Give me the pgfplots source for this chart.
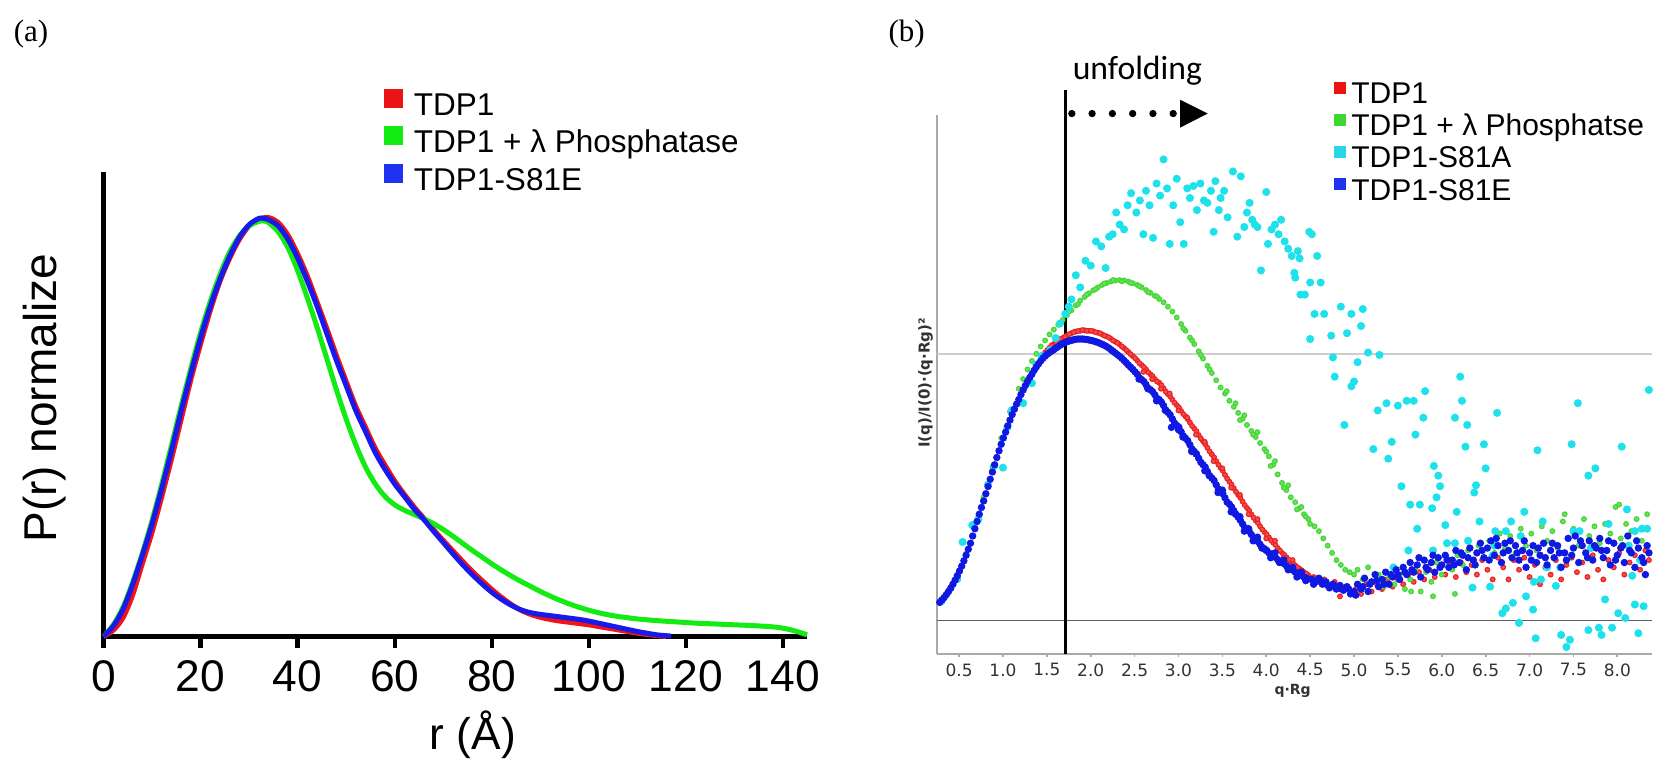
\documentclass[border=0pt]{standalone}
\usepackage{pgfplots}
\pgfplotsset{compat=1.18}
\usepackage{fontspec}
\setmainfont{Liberation Sans}
\newfontfamily\tnr{Liberation Serif}
\newfontfamily\dvs{DejaVu Sans}
\newfontfamily\carl{Carlito}
\definecolor{ra}{RGB}{240,20,20}
\definecolor{ga}{RGB}{20,235,20}
\definecolor{ba}{RGB}{25,25,235}
\definecolor{rb}{RGB}{235,35,35}
\definecolor{gb}{RGB}{70,215,55}
\definecolor{cb}{RGB}{30,225,235}
\definecolor{bb}{RGB}{15,25,225}
\definecolor{lr}{RGB}{235,20,20}
\definecolor{lg}{RGB}{60,215,50}
\definecolor{lc}{RGB}{40,215,230}
\definecolor{lb}{RGB}{30,50,240}
\definecolor{axgray}{RGB}{170,170,170}
\definecolor{zgray}{RGB}{95,95,95}
\definecolor{lgray}{RGB}{205,205,205}
\definecolor{ticktext}{RGB}{50,50,50}
\begin{document}
\begin{tikzpicture}
\useasboundingbox (0,0) rectangle (499.5pt,228pt);
\node[font=\tnr\fontsize{9.3}{10}\selectfont, inner sep=0pt] at (9.3pt,217.8pt) {(a)};
\node[font=\tnr\fontsize{9.3}{10}\selectfont, inner sep=0pt] at (272pt,217.8pt) {(b)};
% ---------------- panel (a)
\begin{axis}[
 at={(31.08pt,37.05pt)}, anchor=south west,
 scale only axis, width=211.02pt, height=139.35pt,
 xmin=0, xmax=145, ymin=0, ymax=1.111,
 axis x line=bottom, axis y line=left,
 axis line style={line width=1.35pt, black, -},
 xtick={0,20,40,60,80,100,120,140}, ytick=\empty,
 tick align=outside, major tick length=3.5pt,
 every tick/.style={black, line width=1.3pt},
 /pgf/number format/assume math mode=true,
 xticklabel style={font=\fontsize{13.3}{14}\selectfont, inner sep=0pt, yshift=-3.55pt},
 xlabel={r (Å)},
 xlabel style={at={(axis description cs:0.525,-0.2121)}, anchor=center, font=\fontsize{13.3}{14}\selectfont, inner sep=0pt},
 ylabel={P(r) normalize},
 ylabel style={at={(axis description cs:-0.0839,0.513)}, anchor=center, font=\fontsize{13.8}{14}\selectfont, inner sep=0pt},
 clip=false,
 legend cell align=left,
 legend style={at={(rel axis cs:0.3986,1.178)}, anchor=north west, draw=none, fill=none,
   inner sep=0pt, outer sep=0pt, font=\fontsize{9.45}{11}\selectfont, row sep=1.2pt,
   nodes={inner sep=0pt, text height=7.2pt, text depth=2pt},
   /tikz/every odd column/.style={column sep=3.3pt}},
]
\addplot[ra, line width=1.5pt, smooth, legend image code/.code={\fill[lr] (0pt,0.4pt) rectangle (4.2pt,4.6pt);}] coordinates {
(0,0) (2,0.015) (4,0.045) (6,0.10) (8,0.175) (10,0.25) (12,0.335) (14,0.425) (16,0.52) (18,0.615) (20,0.70) (22,0.78) (24,0.85) (26,0.905) (28,0.95) (30,0.982) (32,0.998) (34,1.002) (36,0.99) (38,0.96) (40,0.915) (42,0.862) (44,0.80) (46,0.737) (48,0.672) (50,0.61) (52,0.55) (54,0.50) (56,0.45) (58,0.41) (60,0.372) (62,0.34) (64,0.31) (66,0.283) (68,0.256) (70,0.23) (72,0.205) (74,0.18) (76,0.156) (78,0.134) (80,0.113) (82,0.094) (84,0.077) (86,0.063) (88,0.053) (90,0.046) (92,0.041) (94,0.037) (96,0.034) (98,0.031) (100,0.028) (102,0.024) (104,0.020) (106,0.016) (108,0.012) (110,0.008) (112,0.005) (114,0.002) (116,0)};
\addlegendentry{TDP1}
\addplot[ga, line width=1.5pt, smooth, legend image code/.code={\fill[ga] (0pt,0.4pt) rectangle (4.2pt,4.6pt);}] coordinates {
(0,0) (2,0.028) (4,0.07) (6,0.13) (8,0.20) (10,0.278) (12,0.365) (14,0.458) (16,0.552) (18,0.642) (20,0.727) (22,0.802) (24,0.866) (26,0.92) (28,0.958) (30,0.982) (32,0.993) (33,0.994) (34,0.99) (36,0.968) (38,0.93) (40,0.875) (42,0.81) (44,0.74) (46,0.665) (48,0.59) (50,0.52) (52,0.458) (54,0.405) (56,0.365) (58,0.335) (60,0.315) (62,0.302) (64,0.292) (66,0.282) (68,0.27) (70,0.256) (72,0.24) (74,0.223) (76,0.206) (78,0.19) (80,0.174) (82,0.159) (84,0.145) (86,0.132) (88,0.12) (90,0.108) (92,0.097) (94,0.087) (96,0.078) (98,0.07) (100,0.063) (102,0.057) (104,0.052) (106,0.048) (108,0.045) (110,0.042) (114,0.038) (118,0.035) (122,0.032) (126,0.030) (130,0.028) (134,0.026) (138,0.023) (140,0.020) (142,0.015) (144,0.008) (145,0.004)};
\addlegendentry{TDP1 + λ Phosphatase}
\addplot[ba, line width=1.5pt, smooth, legend image code/.code={\fill[lb] (0pt,0.4pt) rectangle (4.2pt,4.6pt);}] coordinates {
(0,0) (2,0.025) (4,0.065) (6,0.125) (8,0.195) (10,0.27) (12,0.355) (14,0.445) (16,0.54) (18,0.63) (20,0.715) (22,0.79) (24,0.855) (26,0.91) (28,0.955) (30,0.985) (32,1.0) (33,1.0) (34,0.997) (36,0.982) (38,0.95) (40,0.905) (42,0.85) (44,0.79) (46,0.725) (48,0.66) (50,0.60) (52,0.54) (54,0.49) (56,0.44) (58,0.40) (60,0.365) (62,0.335) (64,0.305) (66,0.28) (68,0.252) (70,0.225) (72,0.198) (74,0.172) (76,0.148) (78,0.126) (80,0.106) (82,0.089) (84,0.075) (86,0.064) (88,0.057) (90,0.053) (92,0.05) (94,0.047) (96,0.044) (98,0.041) (100,0.037) (102,0.032) (104,0.027) (106,0.022) (108,0.017) (110,0.012) (112,0.008) (114,0.004) (117,0.001)};
\addlegendentry{TDP1-S81E}
\end{axis}
% ---------------- panel (b)
\begin{axis}[
 at={(280.95pt,31.8pt)}, anchor=south west,
 scale only axis, width=214.5pt, height=161.7pt,
 xmin=0.243, xmax=8.39, ymin=-0.139, ymax=2.094,
 axis x line=bottom, axis y line=left,
 axis line style={draw=axgray, line width=0.6pt, -},
 xtick={0.5,1.0,1.5,2.0,2.5,3.0,3.5,4.0,4.5,5.0,5.5,6.0,6.5,7.0,7.5,8.0},
 xticklabels={0.5,1.0,1.5,2.0,2.5,3.0,3.5,4.0,4.5,5.0,5.5,6.0,6.5,7.0,7.5,8.0},
 ytick=\empty,
 tick align=outside, major tick length=0.75pt,
 every tick/.style={axgray, line width=0.5pt},
 xticklabel style={font=\dvs\fontsize{5.1}{6}\selectfont, text=ticktext, inner sep=0pt, yshift=-1.9pt},
 xlabel={q·Rg},
 xlabel style={at={(axis description cs:0.498,-0.068)}, anchor=center, font=\dvs\bfseries\fontsize{4.2}{5}\selectfont, text=ticktext, inner sep=0pt},
 ylabel={I(q)/I(0)·(q·Rg)²},
 ylabel style={at={(axis description cs:-0.0154,0.503)}, anchor=center, font=\dvs\bfseries\fontsize{4.5}{5}\selectfont, text=ticktext, inner sep=0pt},
 clip=false,
 legend cell align=left,
 legend style={at={(rel axis cs:0.556,1.064)}, anchor=north west, draw=none, fill=none,
   inner sep=0pt, outer sep=0pt, font=\fontsize{9}{10}\selectfont, row sep=0.86pt,
   nodes={inner sep=0pt, text height=6.9pt, text depth=1.9pt},
   /tikz/every odd column/.style={column sep=1.5pt}},
]
\draw[zgray, line width=0.45pt] (axis cs:0.243,0) -- (axis cs:8.39,0);
\draw[lgray, line width=0.4pt] (axis cs:0.243,1.104) -- (axis cs:8.39,1.104);
% TDP1 red
\addplot[only marks, mark=*, mark size=0.7pt, rb, mark options={draw=rb, fill=rb!80!white, line width=0.35pt}, legend image code/.code={\fill[lr] (0pt,0.6pt) rectangle (3.3pt,3.9pt);}] coordinates {
(0.28,0.076) (0.38,0.12) (0.48,0.186) (0.58,0.27) (0.68,0.38) (0.78,0.497) (0.88,0.617) (0.98,0.732) (1.08,0.832) (1.18,0.918) (1.28,0.995) (1.38,1.058) (1.48,1.11) (1.53,1.13) (1.58,1.145) (1.63,1.16) (1.68,1.17) (1.73,1.18) (1.78,1.19) (1.83,1.197) (1.88,1.2) (1.93,1.202) (1.98,1.2) (2.03,1.198) (2.08,1.192) (2.13,1.185) (2.18,1.177) (2.23,1.167) (2.28,1.155) (2.33,1.143) (2.38,1.128) (2.43,1.112) (2.48,1.095) (2.53,1.077) (2.58,1.058) (2.63,1.04) (2.68,1.02) (2.73,1.0) (2.78,0.985) (2.83,0.962) (2.88,0.938) (2.93,0.915) (2.98,0.892) (3.03,0.868) (3.08,0.845) (3.13,0.82) (3.18,0.795) (3.23,0.768) (3.28,0.742) (3.33,0.715) (3.38,0.688) (3.43,0.66) (3.48,0.632) (3.53,0.603) (3.58,0.575) (3.63,0.548) (3.68,0.52) (3.73,0.493) (3.78,0.466) (3.83,0.44) (3.88,0.414) (3.93,0.39) (3.98,0.366) (4.03,0.344) (4.08,0.322) (4.13,0.30) (4.18,0.28) (4.23,0.262) (4.28,0.244) (4.33,0.228) (4.38,0.214) (4.43,0.20) (4.48,0.188)
(1.505,1.12) (1.555,1.14) (1.605,1.152) (1.655,1.166) (1.705,1.175) (1.755,1.186) (1.805,1.194) (1.855,1.199) (1.905,1.203) (1.955,1.2) (2.005,1.2) (2.055,1.194) (2.105,1.19) (2.155,1.18) (2.205,1.173) (2.255,1.16) (2.305,1.15) (2.355,1.135) (2.405,1.12) (2.455,1.103) (2.505,1.087) (2.555,1.066) (2.605,1.05) (2.655,1.028) (2.705,1.012) (2.755,0.99) (2.805,0.975) (2.855,0.948) (2.905,0.928) (2.955,0.902) (3.005,0.882) (3.055,0.855) (3.105,0.834) (3.155,0.806) (3.205,0.784) (3.255,0.754) (3.305,0.73) (3.355,0.70) (3.405,0.676) (3.455,0.645) (3.505,0.62) (3.555,0.588) (3.605,0.563) (3.655,0.533) (3.705,0.508) (3.755,0.478) (3.805,0.455) (3.855,0.426) (3.905,0.404) (3.955,0.377) (4.005,0.357) (4.055,0.332) (4.105,0.313) (4.155,0.29) (4.205,0.272) (4.255,0.252) (4.305,0.237) (4.355,0.22) (4.405,0.208) (4.455,0.194)
(2.6,1.03) (2.7,1.0) (2.8,0.96) (2.9,0.94) (3.0,0.87) (3.1,0.84) (3.2,0.77) (3.3,0.74) (3.4,0.66) (3.5,0.63) (3.6,0.55) (3.7,0.52) (3.8,0.44) (3.9,0.42) (4.0,0.34) (4.1,0.33) (4.2,0.26) (4.3,0.25) (4.4,0.20) (4.5,0.17)
(4.54,0.18) (4.60,0.16) (4.66,0.17) (4.72,0.14) (4.78,0.16) (4.84,0.10) (4.90,0.14) (4.96,0.12) (5.02,0.13) (5.08,0.11) (5.14,0.15) (5.20,0.12) (5.26,0.15) (5.32,0.13) (5.38,0.17) (5.44,0.14) (5.50,0.17) (5.56,0.15) (5.62,0.19) (5.68,0.16) (5.74,0.20) (5.80,0.17) (5.86,0.21) (5.92,0.18) (5.98,0.22) (6.04,0.19) (6.10,0.23) (6.16,0.18) (6.22,0.24) (6.28,0.20) (6.34,0.23) (6.40,0.19) (6.46,0.25) (6.52,0.21) (6.58,0.17) (6.64,0.26) (6.70,0.22) (6.76,0.17) (6.82,0.25) (6.88,0.21) (6.94,0.26) (7.00,0.18) (7.06,0.23) (7.12,0.15) (7.18,0.22) (7.24,0.19) (7.30,0.25) (7.36,0.17) (7.42,0.23) (7.48,0.26) (7.54,0.20) (7.60,0.24) (7.66,0.18) (7.72,0.27) (7.78,0.21) (7.84,0.17) (7.90,0.25) (7.96,0.22) (8.02,0.28) (8.08,0.19) (8.14,0.24) (8.20,0.27) (8.26,0.21) (8.32,0.29) (8.36,0.25)};
\addlegendentry{TDP1}
% phosphatase green
\addplot[only marks, mark=*, mark size=0.7pt, gb, mark options={draw=gb, fill=gb!80!white, line width=0.35pt}, legend image code/.code={\fill[lg] (0pt,0.6pt) rectangle (3.3pt,3.9pt);}] coordinates {
(0.28,0.078) (0.38,0.123) (0.48,0.19) (0.58,0.277) (0.68,0.39) (0.78,0.51) (0.88,0.635) (0.98,0.755) (1.08,0.865) (1.18,0.96) (1.23,1.0) (1.28,1.04) (1.33,1.075) (1.38,1.105) (1.43,1.135) (1.48,1.16) (1.53,1.185) (1.58,1.205) (1.63,1.225) (1.68,1.245) (1.73,1.265) (1.78,1.285) (1.83,1.305) (1.88,1.325) (1.93,1.34) (1.98,1.355) (2.03,1.368) (2.08,1.38) (2.13,1.39) (2.18,1.398) (2.23,1.404) (2.28,1.408) (2.33,1.41) (2.38,1.409) (2.43,1.404) (2.48,1.397) (2.53,1.39) (2.58,1.38) (2.63,1.369) (2.68,1.357) (2.73,1.345) (2.78,1.332) (2.83,1.318) (2.88,1.30) (2.93,1.28) (2.98,1.255) (3.03,1.228) (3.08,1.20) (3.13,1.172) (3.18,1.145) (3.23,1.115) (3.28,1.085) (3.33,1.055) (3.38,1.025) (3.43,0.995) (3.48,0.965) (3.53,0.94) (3.58,0.91) (3.63,0.885) (3.68,0.86) (3.73,0.835) (3.78,0.81) (3.83,0.785) (3.88,0.76) (3.93,0.735) (3.98,0.71) (4.03,0.68) (4.08,0.645) (4.13,0.605) (4.18,0.57) (4.23,0.54) (4.28,0.51) (4.33,0.49) (4.38,0.465) (4.43,0.44) (4.48,0.42)
(1.755,1.28) (1.855,1.31) (1.955,1.35) (2.055,1.372) (2.155,1.396) (2.255,1.41) (2.355,1.405) (2.455,1.398) (2.555,1.385) (2.655,1.36) (2.755,1.342) (3.055,1.21) (3.155,1.16) (3.255,1.10) (3.355,1.04)
(3.55,0.95) (3.65,0.90) (3.70,0.83) (3.75,0.85) (3.85,0.77) (3.90,0.78) (4.0,0.70) (4.05,0.64) (4.1,0.66) (4.2,0.55) (4.25,0.56) (4.35,0.46) (4.4,0.47) (4.45,0.43)
(4.5,0.40) (4.55,0.39) (4.6,0.37) (4.65,0.34) (4.7,0.31) (4.75,0.28) (4.8,0.25) (4.85,0.23) (4.9,0.21) (4.95,0.20) (5.0,0.19)
(5.04,0.21) (5.10,0.17) (5.16,0.22) (5.22,0.16) (5.28,0.19) (5.34,0.14) (5.40,0.18) (5.46,0.15) (5.52,0.19) (5.58,0.13) (5.64,0.17) (5.70,0.21) (5.76,0.12) (5.82,0.20) (5.88,0.16) (5.94,0.24) (6.00,0.19) (6.06,0.26) (6.12,0.21) (6.18,0.27) (6.24,0.23) (6.30,0.29) (6.36,0.24) (6.42,0.31) (6.48,0.26) (6.54,0.33) (6.60,0.28) (6.66,0.36) (6.72,0.30) (6.78,0.35) (6.84,0.28) (6.90,0.38) (6.96,0.31) (7.02,0.36) (7.08,0.29) (7.14,0.39) (7.20,0.33) (7.26,0.37) (7.32,0.30) (7.38,0.41) (7.44,0.34) (7.50,0.38) (7.56,0.31) (7.62,0.42) (7.68,0.35) (7.74,0.39) (7.80,0.32) (7.86,0.40) (7.92,0.36) (7.98,0.47) (8.04,0.34) (8.10,0.40) (8.16,0.37) (8.22,0.42) (8.28,0.33) (8.34,0.44)
(5.65,0.12) (5.9,0.10) (6.15,0.11) (8.02,0.48) (7.4,0.44)};
\addlegendentry{TDP1 + λ Phosphatse}
% S81A cyan
\addplot[only marks, mark=*, mark size=1pt, cb, legend image code/.code={\fill[lc] (0pt,0.6pt) rectangle (3.3pt,3.9pt);}] coordinates {
(0.30,0.08) (0.48,0.171) (0.54,0.325) (0.65,0.395) (0.72,0.42) (0.83,0.563) (0.90,0.64) (1.0,0.633) (1.05,0.80) (1.10,0.871) (1.23,0.90) (1.33,0.983) (1.38,1.06) (1.44,1.096) (1.54,1.12) (1.60,1.17) (1.65,1.23) (1.71,1.27) (1.75,1.30)
(1.78,1.33) (1.83,1.43) (1.88,1.38) (1.94,1.49) (2.0,1.47) (2.06,1.57) (2.12,1.55) (2.17,1.46) (2.21,1.59) (2.25,1.60) (2.29,1.69) (2.33,1.64) (2.38,1.62) (2.42,1.72) (2.46,1.77) (2.52,1.69) (2.56,1.74) (2.60,1.60) (2.63,1.78) (2.67,1.72) (2.71,1.585) (2.75,1.81) (2.79,1.76) (2.83,1.91) (2.87,1.79) (2.90,1.56) (2.94,1.72) (2.98,1.83) (3.02,1.65) (3.06,1.56) (3.10,1.79) (3.13,1.75) (3.17,1.80) (3.21,1.70) (3.25,1.81) (3.29,1.74) (3.33,1.73) (3.37,1.78) (3.40,1.61) (3.42,1.82) (3.46,1.70) (3.48,1.75) (3.52,1.78) (3.56,1.67) (3.62,1.86) (3.67,1.59) (3.71,1.84) (3.75,1.63) (3.78,1.69) (3.81,1.73) (3.84,1.66) (3.87,1.64) (3.90,1.63) (3.94,1.45) (4.0,1.775) (4.02,1.56) (4.06,1.62) (4.10,1.64) (4.14,1.60) (4.17,1.66) (4.21,1.57) (4.25,1.54) (4.29,1.51) (4.33,1.42) (4.36,1.53) (4.38,1.50) (4.44,1.35) (4.49,1.61) (4.50,1.166) (4.52,1.60) (4.32,1.44) (4.39,1.35) (4.50,1.40) (4.58,1.51) (4.62,1.40)
(4.55,1.27) (4.66,1.27) (4.74,1.18) (4.76,1.09) (4.78,1.01) (4.85,1.30) (4.89,0.81) (4.92,1.19) (4.97,1.27) (4.97,0.97) (5.00,0.99) (5.04,1.07) (5.08,1.22) (5.10,1.29) (5.16,1.11) (5.22,0.71) (5.27,0.87) (5.29,1.10) (5.37,0.90) (5.39,0.67) (5.43,0.74) (5.50,0.89) (5.54,0.556) (5.60,0.91) (5.62,0.29) (5.64,0.48) (5.68,0.91) (5.70,0.77) (5.72,0.38) (5.75,0.48) (5.79,0.84) (5.81,0.95) (5.89,0.465) (5.91,0.64) (5.94,0.51) (5.96,0.60) (5.98,0.556) (6.04,0.395) (6.06,0.32) (6.15,0.32) (6.15,0.84) (6.17,0.45) (6.21,1.01) (6.23,0.91) (6.27,0.72) (6.29,0.81) (6.35,0.136) (6.37,0.53) (6.39,0.56) (6.43,0.41) (6.48,0.73) (6.50,0.63) (6.58,0.27) (6.61,0.37) (6.63,0.86) (6.69,0.03) (6.73,0.05) (6.73,0.37) (6.79,0.41) (6.81,0.073) (6.88,-0.01) (6.94,0.45) (6.96,0.10) (7.04,0.045) (7.07,-0.074) (7.09,0.705) (7.13,0.17) (7.15,0.41) (7.30,0.143) (7.36,-0.06) (7.42,-0.11) (7.46,-0.08) (7.48,0.73) (7.55,0.90) (7.57,0.37) (7.67,0.60) (7.67,-0.04) (7.75,0.63) (7.79,-0.03) (7.82,-0.06) (7.86,0.087) (7.94,-0.03) (8.01,0.03) (8.05,0.72) (8.09,0.01) (8.11,0.46) (8.13,0.31) (8.17,0.185) (8.20,0.066) (8.24,-0.053) (8.26,0.25) (8.28,0.38) (8.30,0.059) (8.34,0.38) (8.36,0.955)
(5.45,0.22) (5.9,0.29) (6.3,0.33) (6.6,0.31) (6.9,0.35) (7.2,0.22) (7.5,0.37) (7.9,0.40) (8.2,0.37) (6.55,0.14) (7.05,0.16) (7.35,0.22) (7.7,0.30)};
\addlegendentry{TDP1-S81A}
% S81E blue
\addplot[only marks, mark=*, mark size=0.9pt, bb, legend image code/.code={\fill[lb] (0pt,0.6pt) rectangle (3.3pt,3.9pt);}] coordinates {
(0.28,0.075) (0.33,0.095) (0.38,0.12) (0.43,0.15) (0.48,0.185) (0.53,0.225) (0.58,0.27) (0.63,0.32) (0.68,0.38) (0.73,0.44) (0.78,0.495) (0.83,0.555) (0.88,0.615) (0.93,0.675) (0.98,0.73) (1.03,0.78) (1.08,0.83) (1.13,0.875) (1.18,0.915) (1.23,0.955) (1.28,0.99) (1.33,1.02) (1.38,1.05) (1.43,1.075) (1.48,1.095) (1.53,1.11) (1.58,1.122) (1.63,1.135) (1.68,1.147) (1.73,1.155) (1.78,1.16) (1.83,1.165) (1.88,1.166) (1.93,1.165) (1.98,1.162) (2.03,1.158) (2.08,1.152) (2.13,1.144) (2.18,1.135) (2.23,1.122) (2.28,1.108) (2.33,1.094) (2.38,1.077) (2.43,1.058) (2.48,1.04) (2.53,1.02) (2.58,0.998) (2.63,0.977) (2.68,0.956) (2.73,0.935) (2.78,0.915) (2.83,0.89) (2.88,0.862) (2.93,0.835) (2.98,0.808) (3.03,0.782) (3.08,0.755) (3.13,0.728) (3.18,0.70) (3.23,0.672) (3.28,0.645) (3.33,0.617) (3.38,0.59) (3.43,0.562) (3.48,0.535) (3.53,0.508) (3.58,0.482) (3.63,0.455) (3.68,0.428) (3.73,0.40) (3.78,0.378) (3.83,0.356) (3.88,0.335) (3.93,0.315) (3.98,0.297) (4.03,0.28) (4.08,0.266) (4.13,0.252) (4.18,0.24) (4.23,0.226) (4.28,0.212) (4.33,0.20) (4.38,0.19) (4.43,0.18) (4.48,0.172)
(0.305,0.085) (0.355,0.107) (0.405,0.134) (0.455,0.167) (0.505,0.205) (0.555,0.247) (0.605,0.295) (0.655,0.35) (0.705,0.41) (0.755,0.468) (0.805,0.525) (0.855,0.585) (0.905,0.645) (0.955,0.703) (1.005,0.756) (1.055,0.806) (1.105,0.853) (1.155,0.896) (1.205,0.936) (1.255,0.973) (1.305,1.006) (1.355,1.036) (1.405,1.063) (1.455,1.086) (1.505,1.103) (1.555,1.116) (1.605,1.129) (1.655,1.141) (1.705,1.151) (1.755,1.158) (1.805,1.163) (1.855,1.166) (1.905,1.166) (1.955,1.164) (2.005,1.16) (2.055,1.155) (2.105,1.148) (2.155,1.14) (2.205,1.129) (2.255,1.115) (2.305,1.101) (2.355,1.086) (2.405,1.068) (2.455,1.049)
(2.505,1.03) (2.555,1.005) (2.605,0.99) (2.655,0.962) (2.705,0.948) (2.755,0.92) (2.805,0.905) (2.855,0.872) (2.905,0.852) (2.955,0.818) (3.005,0.80) (3.055,0.765) (3.105,0.745) (3.155,0.71) (3.205,0.69) (3.255,0.655) (3.305,0.635) (3.355,0.60) (3.405,0.58) (3.455,0.545) (3.505,0.525) (3.555,0.49) (3.605,0.47) (3.655,0.44) (3.705,0.415) (3.755,0.385) (3.805,0.37) (3.855,0.343) (3.905,0.327) (3.955,0.303) (4.005,0.29) (4.055,0.27) (4.105,0.262) (4.155,0.244) (4.205,0.235) (4.255,0.217) (4.305,0.208) (4.355,0.193) (4.405,0.186) (4.455,0.174)
(2.55,1.0) (2.65,0.96) (2.75,0.91) (2.85,0.87) (2.92,0.80) (3.0,0.79) (3.05,0.76) (3.15,0.70) (3.2,0.69) (3.3,0.62) (3.35,0.60) (3.45,0.53) (3.5,0.54) (3.6,0.45) (3.65,0.44) (3.7,0.43) (3.75,0.37) (3.8,0.38) (3.85,0.33) (3.9,0.345) (3.95,0.30) (4.0,0.29) (4.05,0.26) (4.1,0.28) (4.15,0.24) (4.2,0.25) (4.25,0.21) (4.3,0.22) (4.35,0.18) (4.4,0.2) (4.45,0.165)
(4.52,0.17) (4.56,0.16) (4.60,0.175) (4.64,0.15) (4.68,0.16) (4.72,0.135) (4.76,0.15) (4.80,0.13) (4.84,0.145) (4.88,0.125) (4.92,0.14) (4.96,0.11) (5.00,0.12) (5.04,0.15) (5.08,0.13) (5.12,0.175) (5.16,0.12) (5.20,0.16) (5.24,0.19) (5.28,0.14) (5.32,0.17) (5.36,0.20) (5.40,0.15) (5.44,0.18) (5.48,0.21) (5.52,0.17) (5.56,0.22) (5.60,0.19) (5.64,0.24) (5.68,0.20) (5.72,0.23) (5.76,0.18) (5.80,0.25) (5.84,0.21) (5.88,0.24) (5.92,0.20) (5.96,0.26) (6.00,0.23) (6.04,0.27) (6.08,0.22) (6.12,0.25) (6.16,0.29) (6.20,0.24) (6.24,0.27) (6.28,0.21) (6.32,0.30) (6.36,0.25) (6.40,0.28) (6.44,0.32) (6.48,0.26) (6.52,0.30) (6.56,0.33) (6.60,0.27) (6.64,0.31) (6.68,0.24) (6.72,0.32) (6.76,0.29) (6.80,0.26) (6.84,0.31) (6.88,0.25) (6.92,0.29) (6.96,0.22) (7.00,0.28) (7.04,0.31) (7.08,0.24) (7.12,0.27) (7.16,0.32) (7.20,0.23) (7.24,0.29) (7.28,0.26) (7.32,0.31) (7.36,0.22) (7.40,0.28) (7.44,0.34) (7.48,0.27) (7.52,0.35) (7.56,0.24) (7.60,0.31) (7.64,0.28) (7.68,0.33) (7.72,0.25) (7.76,0.30) (7.80,0.34) (7.84,0.26) (7.88,0.29) (7.92,0.23) (7.96,0.32) (8.00,0.27) (8.04,0.30) (8.08,0.24) (8.12,0.35) (8.16,0.28) (8.20,0.22) (8.24,0.30) (8.28,0.26) (8.32,0.19) (8.36,0.28)
(4.54,0.15) (4.62,0.165) (4.70,0.145) (4.78,0.14) (4.86,0.13) (4.94,0.13) (5.02,0.105) (5.10,0.14) (5.18,0.15) (5.26,0.165) (5.34,0.15) (5.42,0.19) (5.50,0.19) (5.58,0.20) (5.66,0.21) (5.74,0.26) (5.82,0.22) (5.90,0.27) (5.98,0.22) (6.06,0.25) (6.14,0.23) (6.22,0.28) (6.30,0.26) (6.38,0.23) (6.46,0.29) (6.54,0.25) (6.62,0.34) (6.70,0.28) (6.78,0.33) (6.86,0.28) (6.94,0.33) (7.02,0.25) (7.10,0.30) (7.18,0.26) (7.26,0.32) (7.34,0.28) (7.42,0.25) (7.50,0.30) (7.58,0.33) (7.66,0.26) (7.74,0.31) (7.82,0.29) (7.90,0.33) (7.98,0.25) (8.06,0.31) (8.14,0.29) (8.22,0.33) (8.30,0.24) (8.34,0.31)};
\addlegendentry{TDP1-S81E}
\draw[black, line width=0.9pt] (axis cs:1.715,-0.139) -- (axis cs:1.715,2.196);
\draw[black, line width=2.2pt, line cap=round, dash pattern=on 0pt off 6.08pt] (axis cs:1.785,2.100) -- (axis cs:2.940,2.100);
\fill[black] (axis cs:3.02,2.157) -- (axis cs:3.333,2.100) -- (axis cs:3.02,2.042) -- cycle;
\node[anchor=base west, inner sep=0pt, font=\carl\fontsize{10.1}{11}\selectfont] at (axis cs:1.788,2.243) {unfolding};
\end{axis}
\end{tikzpicture}
\end{document}
